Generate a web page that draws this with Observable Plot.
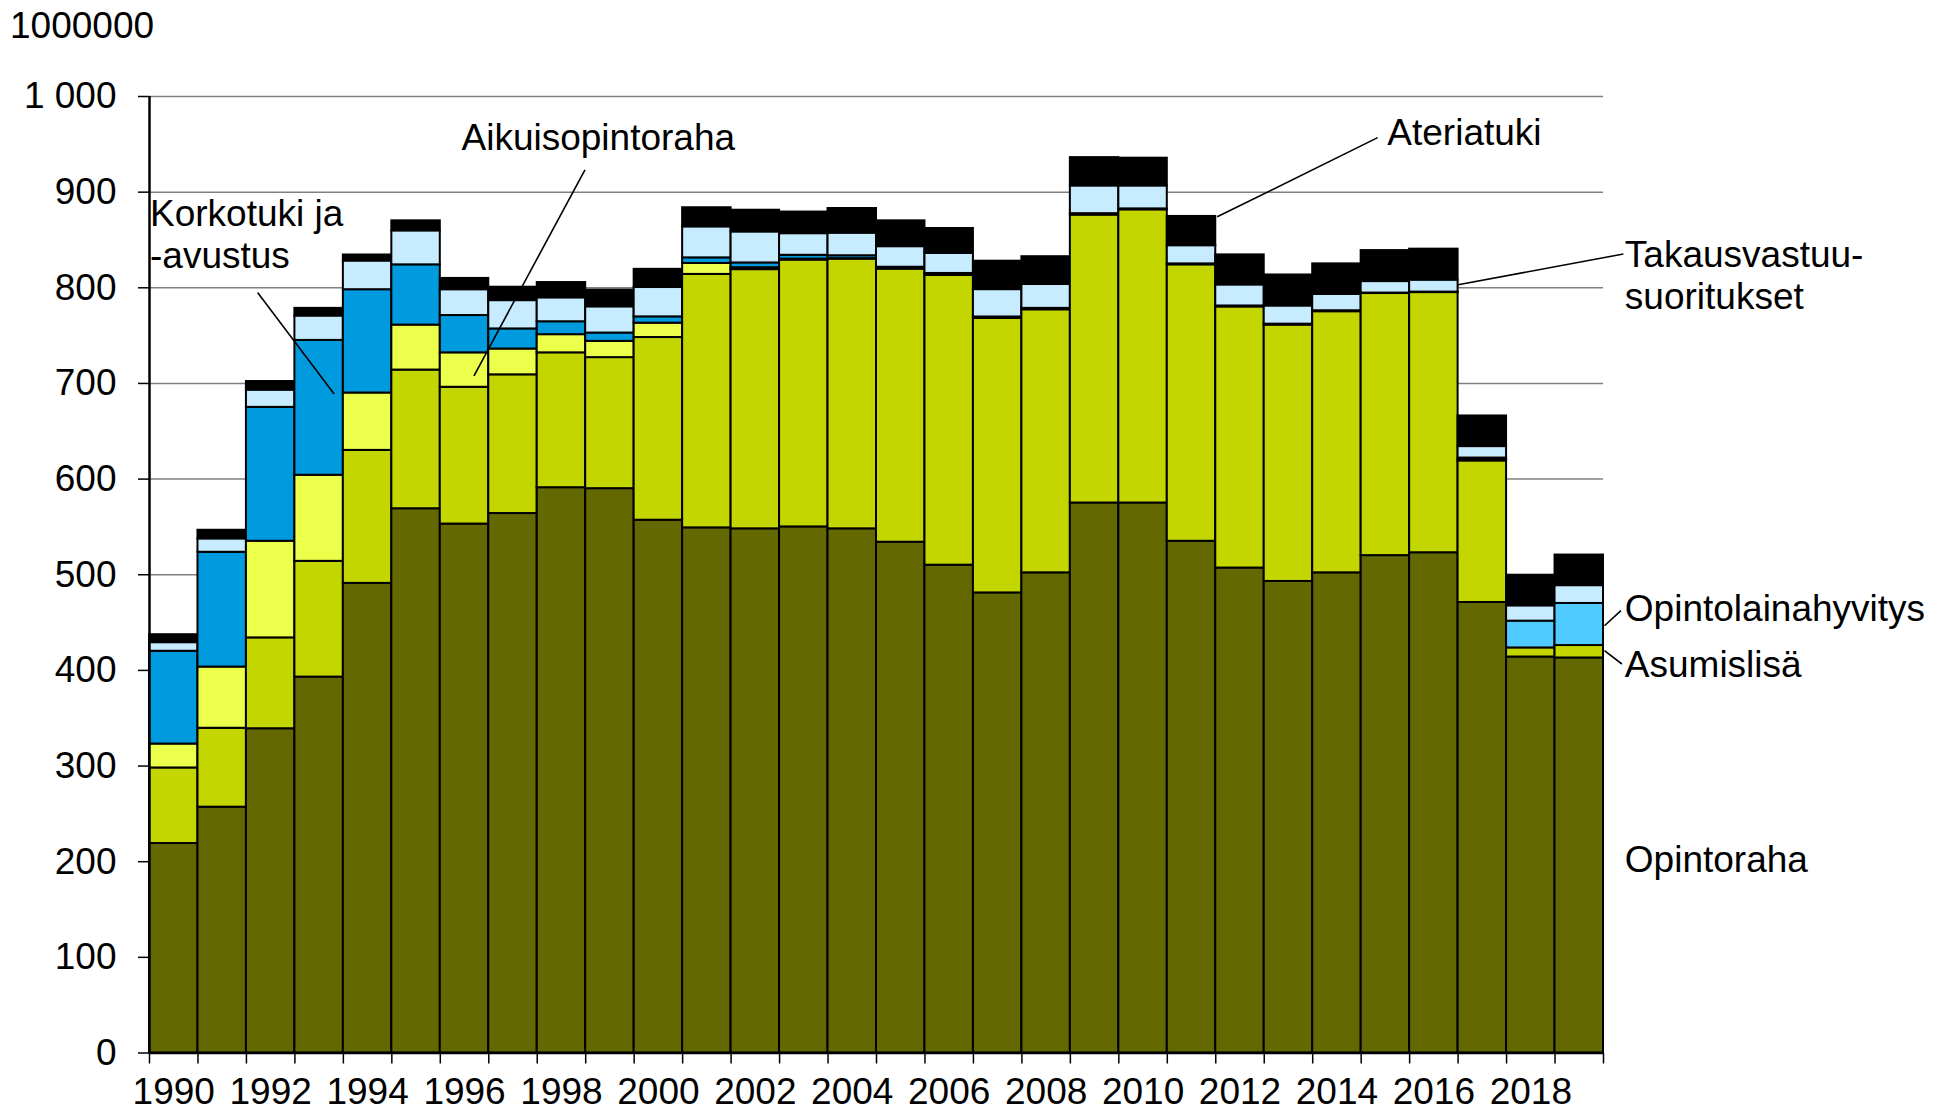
<!DOCTYPE html>
<html>
<head>
<meta charset="utf-8">
<script src="https://cdn.jsdelivr.net/npm/d3@7"></script>
<script src="https://cdn.jsdelivr.net/npm/@observablehq/plot@0.6"></script>
<style>
  html, body { margin: 0; padding: 0; background: #ffffff; }
  #chart svg { display: block; }
</style>
</head>
<body>
<div id="chart"></div>
<script>
// ---- Data (million euros) ----
const years = [1990,1991,1992,1993,1994,1995,1996,1997,1998,1999,
               2000,2001,2002,2003,2004,2005,2006,2007,2008,2009,
               2010,2011,2012,2013,2014,2015,2016,2017,2018,2019];

const seriesNames = ["Opintoraha", "Asumislisä", "Aikuisopintoraha", "Korkotuki ja -avustus",
                     "Opintolainahyvitys", "Takausvastuusuoritukset", "Ateriatuki"];
const seriesColors = ["#636900", "#c4d600", "#ecff4b", "#009bde", "#50cbff", "#c7ebff", "#000000"];

const opintoraha = [219,257,339,393,491,569,553,564,591,590,
                    557,549,548,550,548,534,510,481,502,575,
                    575,535,507,493,502,520,523,471,414,413];
const asumislisa = [79,82.5,95,121,139,145,143,145,141,137,
                    191,265,271,279,282,285.5,303,287,275,301,
                    306.5,289,273,268,273,274,272,148,9.5,13];
const aikuisopintoraha = [25,64,101,90,60,47,36,27,19,17,
                          15,11.5,2,1,0.5,0,0,0,0,0,
                          0,0,0,0,0,0,0,0,0,0];
const korkotuki = [97,120,140,141,108,63,39,21,13.5,8.7,
                   6.6,5.8,5,4,3,2,2,1.5,1.5,1.5,
                   1,1,1,1,1,0.5,0.5,1,0,0];
const opintolainahyvitys = [0,0,0,0,0,0,0,0,0,0,
                            0,0,0,0,0,0,0,0,0,0,
                            0,0,0,0,0,0,0,2,28,44];
const takausvastuu = [9,14,18,25.5,30,35.5,27,29.6,25,27.4,
                      30.7,32.4,32.4,22.6,23.6,21.5,21,28.6,25,29,
                      24,19,22,19,17,12,12.5,12,16,18.6];
const ateriatuki = [8.3,9,9,8,6.3,10.5,11.8,14,16,17.5,
                    19,20,22.7,22.6,25.8,27,26,29.7,29,29.6,
                    29,30.6,31.4,32.4,32,32.4,32.4,32,32,32];

const yTicks = [0,100,200,300,400,500,600,700,800,900,1000];
const xLabelYears = [1990,1992,1994,1996,1998,2000,2002,2004,2006,2008,2010,2012,2014,2016,2018];
const unitLabel = "1000000";

// Annotation texts and their anchor points (data space: year, value)
const annotations = [
  {text: "Korkotuki ja\n-avustus", x: 1990.01, y: 820.6, anchor: "start"},
  {text: "Aikuisopintoraha", x: 1999.26, y: 944.3, anchor: "middle"},
  {text: "Ateriatuki", x: 2015.54, y: 949.4, anchor: "start"},
  {text: "Takausvastuu-\nsuoritukset", x: 2020.44, y: 777.7, anchor: "start"},
  {text: "Opintolainahyvitys", x: 2020.44, y: 451.2, anchor: "start"},
  {text: "Asumislisä", x: 2020.44, y: 393.5, anchor: "start"},
  {text: "Opintoraha", x: 2020.44, y: 189, anchor: "start"}
];
const leaders = [
  {x1: 1992.23, y1: 795, x2: 1993.81, y2: 689},
  {x1: 1998.985, y1: 923.3, x2: 1996.695, y2: 708},
  {x1: 2012.03, y1: 874.2, x2: 2015.34, y2: 957},
  {x1: 2017.0, y1: 803.1, x2: 2020.41, y2: 835.3},
  {x1: 2020.02, y1: 446.7, x2: 2020.36, y2: 462.4},
  {x1: 2020.02, y1: 420.6, x2: 2020.38, y2: 406.7}
];

// ---- Build long table ----
const seriesValues = [opintoraha, asumislisa, aikuisopintoraha, korkotuki,
                      opintolainahyvitys, takausvastuu, ateriatuki];
const rows = [];
years.forEach((yr, i) => {
  seriesNames.forEach((name, s) => {
    const v = seriesValues[s][i];
    if (v > 0) rows.push({year: yr, series: name, value: v});
  });
});

const boundaries = years.concat([years[years.length - 1] + 1]);
const fiFormat = d3.formatLocale({decimal: ",", thousands: " ", grouping: [3], currency: ["", "€"]}).format(",");

const chart = Plot.plot({
  width: 1946,
  height: 1113,
  marginLeft: 149,
  marginRight: 343,
  marginTop: 96,
  marginBottom: 60.5,
  style: {fontFamily: "'Liberation Sans', Arial, Helvetica, sans-serif", fontSize: "37px", color: "#000", background: "#fff", overflow: "visible"},
  x: {type: "linear", domain: [years[0], years[years.length - 1] + 1], label: null},
  y: {domain: [0, 1000], label: null},
  color: {domain: seriesNames, range: seriesColors},
  marks: [
    Plot.gridY({ticks: yTicks.filter(d => d > 0), stroke: "#808080", strokeOpacity: 1, strokeWidth: 1.5}),
    Plot.rectY(rows, {
      x1: "year",
      x2: d => d.year + 1,
      y: "value",
      fill: "series",
      order: seriesNames,
      stroke: "#000",
      strokeWidth: 2
    }),
    Plot.ruleY([0], {stroke: "#000", strokeWidth: 2.5}),
    Plot.ruleX([years[0]], {stroke: "#000", strokeWidth: 2.5}),
    Plot.axisY({ticks: yTicks, tickFormat: fiFormat, tickSize: 11, tickPadding: 22, strokeWidth: 1.5}),
    Plot.axisX({ticks: boundaries, tickFormat: () => "", tickSize: 11, strokeWidth: 1.5}),
    Plot.axisX({ticks: xLabelYears.map(y => y + 0.5), tickFormat: d => String(Math.floor(d)), tickSize: 0, tickPadding: 25}),
    Plot.link(leaders, {x1: "x1", y1: "y1", x2: "x2", y2: "y2", stroke: "#000", strokeWidth: 1.6}),
    Plot.text(annotations.filter(a => a.anchor === "start"), {
      x: "x", y: "y", text: "text", textAnchor: "start", lineAnchor: "bottom", lineHeight: 1.145, fill: "#000"
    }),
    Plot.text(annotations.filter(a => a.anchor === "middle"), {
      x: "x", y: "y", text: "text", textAnchor: "middle", lineAnchor: "bottom", lineHeight: 1.145, fill: "#000"
    }),
    Plot.text([unitLabel], {
      text: d => d, frameAnchor: "top-left", textAnchor: "start", lineAnchor: "bottom", dx: -139.5, dy: -59, fill: "#000"
    })
  ]
});

document.getElementById("chart").appendChild(chart);
</script>
</body>
</html>
